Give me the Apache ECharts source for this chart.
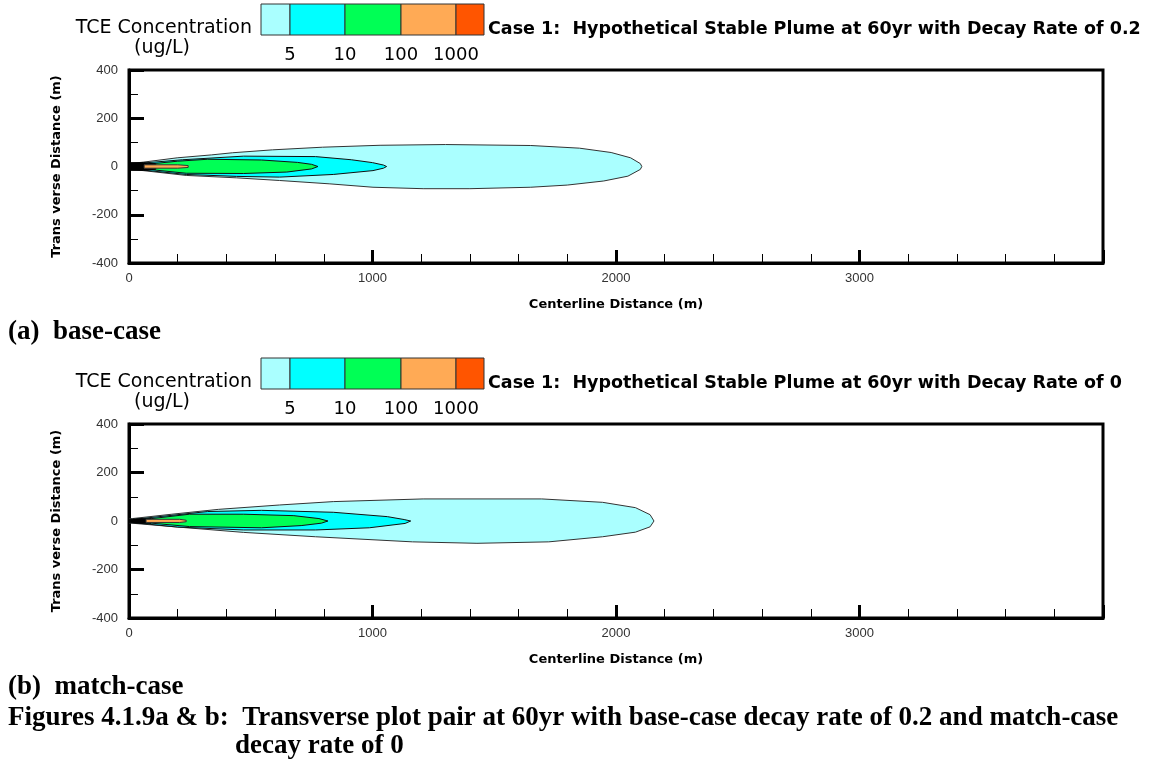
<!DOCTYPE html>
<html><head><meta charset="utf-8">
<script src="https://cdn.jsdelivr.net/npm/echarts@6/dist/echarts.min.js"></script>
<style>html,body{margin:0;padding:0;background:#fff}#c{width:1152px;height:761px}</style>
</head><body><div id="c"></div>
<script>
// ---- tick labels ----
const xTickLabels = [0, 1000, 2000, 3000];
const yTickLabels = [400, 200, 0, -200, -400];
// ---- legend ----
const legendColors = ['#aaffff', '#00ffff', '#00ff55', '#ffaa55', '#ff5500'];
const legendLabels = ['5', '10', '100', '1000'];
// ---- (a) base-case contours [centerline m, transverse m] ----
const aOuter = [[0,12],[58,18],[198,36],[338,48],[426,57],[589,69],[795,80],[1031,88],[1300,91],[1650,87],[1850,76],[1980,58],[2060,36],[2100,12],[2106,0],
  [2100,-12],[2049,-40],[1950,-60],[1800,-77],[1650,-86],[1400,-92],[1208,-92],[1002,-86],[825,-72],[618,-58],[441,-47],[235,-37],[58,-17],[0,-12]];
const aCyan = [[30,12],[220,28],[471,43],[766,41],[913,28],[1000,16],[1045,6],[1058,0],
  [1045,-7],[1002,-17],[839,-33],[618,-44],[441,-41],[235,-33],[30,-12]];
const aGreen = [[70,9],[200,22],[323,30],[544,27],[692,17],[750,9],[776,0],
  [750,-10],[648,-23],[471,-29],[235,-28],[100,-14],[70,-9]];
const aBlack = [[0,16],[60,16],[110,10],[110,-11],[60,-16],[0,-16]];
const aOrange = [[62,7],[200,7],[243,4],[243,-4],[200,-7],[62,-7]];
// ---- (b) match-case contours ----
const bOuter = [[0,8],[14,10],[176,28],[367,48],[618,66],[839,80],[1208,91],[1695,91],[1945,77],[2080,55],[2140,26],[2156,0],
  [2140,-24],[2080,-46],[1945,-65],[1724,-86],[1429,-92],[1164,-86],[766,-65],[471,-47],[176,-23],[0,-8]];
const bCyan = [[30,8],[323,39],[544,44],[839,36],[1061,18],[1130,6],[1157,0],
  [1134,-10],[987,-28],[766,-37],[471,-37],[200,-25],[30,-8]];
const bGreen = [[60,6],[249,28],[471,28],[677,22],[780,10],[817,0],
  [790,-9],[707,-19],[544,-28],[249,-23],[60,-6]];
const bBlack = [[0,7],[40,9],[90,9],[90,-9],[40,-9],[0,-7]];
const bOrange = [[70,7],[208,7],[235,3],[235,-3],[208,-6],[70,-6]];

const chart = echarts.init(document.getElementById('c'));
const FONT = 'DejaVu Sans';
const SANS = 'Liberation Sans';

function polySeries(idx, pts, fill, stroke) {
  return {
    type: 'custom', xAxisIndex: idx, yAxisIndex: idx, clip: true, silent: true,
    data: [[pts[0][0], pts[0][1]]],
    renderItem: function (params, api) {
      return { type: 'polygon', shape: { points: pts.map(p => api.coord(p)) },
        style: { fill: fill, stroke: stroke, lineWidth: 1 } };
    }
  };
}

function xAx(i) {
  return {
    gridIndex: i, type: 'value', min: 0, max: 4000, interval: 1000,
    name: 'Centerline Distance (m)', nameLocation: 'middle', nameGap: 35,
    nameTextStyle: { fontFamily: FONT, fontWeight: 'bold', fontSize: 13, color: '#000' },
    axisLine: { show: true, onZero: false, lineStyle: { color: '#000', width: 3 } },
    axisTick: { show: true, inside: true, length: 13, lineStyle: { color: '#000', width: 3 } },
    minorTick: { show: true, splitNumber: 5, length: 9, lineStyle: { color: '#000', width: 1 } },
    splitLine: { show: false },
    axisLabel: { margin: 9, fontFamily: SANS, fontSize: 13, color: '#333',
      formatter: v => xTickLabels.indexOf(v) >= 0 ? String(v) : '' }
  };
}
function yAx(i) {
  return {
    gridIndex: i, type: 'value', min: -400, max: 400, interval: 200,
    name: 'Trans verse Distance (m)', nameLocation: 'middle', nameGap: 66,
    nameTextStyle: { fontFamily: FONT, fontWeight: 'bold', fontSize: 13, color: '#000' },
    axisLine: { show: true, onZero: false, lineStyle: { color: '#000', width: 3 } },
    axisTick: { show: true, inside: true, length: 15, lineStyle: { color: '#000', width: 3 } },
    minorTick: { show: true, splitNumber: 2, length: 9, lineStyle: { color: '#000', width: 1 } },
    splitLine: { show: false },
    axisLabel: { margin: 11, fontFamily: SANS, fontSize: 13, color: '#333',
      formatter: v => yTickLabels.indexOf(v) >= 0 ? String(v) : '' }
  };
}

function legendGraphics(dy, title) {
  const g = [];
  const bounds = [261, 290, 345, 401, 456, 484];
  for (let i = 0; i < legendColors.length; i++) {
    g.push({ type: 'rect', shape: { x: bounds[i], y: 4 + dy, width: bounds[i+1] - bounds[i], height: 31 },
      style: { fill: legendColors[i], stroke: '#333', lineWidth: 1 } });
  }
  for (let i = 0; i < legendLabels.length; i++) {
    g.push({ type: 'text', x: bounds[i+1], y: 55 + dy,
      style: { text: legendLabels[i], align: 'center', verticalAlign: 'middle', font: '18px "' + FONT + '"', fill: '#000' } });
  }
  g.push({ type: 'text', x: 252, y: 28 + dy, style: { text: 'TCE Concentration', align: 'right', verticalAlign: 'middle', font: '19px "' + FONT + '"', fill: '#000' } });
  g.push({ type: 'text', x: 162, y: 48 + dy, style: { text: '(ug/L)', align: 'center', verticalAlign: 'middle', font: '19px "' + FONT + '"', fill: '#000' } });
  g.push({ type: 'text', x: 488, y: 29 + dy, style: { text: title, align: 'left', verticalAlign: 'middle', font: 'bold 17.5px "' + FONT + '"', fill: '#000' } });
  return g;
}

const capFont = 'bold 27px "Liberation Serif"';
const graphics = [].concat(
  legendGraphics(0, 'Case 1:  Hypothetical Stable Plume at 60yr with Decay Rate of 0.2'),
  legendGraphics(354, 'Case 1:  Hypothetical Stable Plume at 60yr with Decay Rate of 0'),
  [
    { type: 'text', x: 8, y: 332, style: { text: '(a)  base-case', verticalAlign: 'middle', font: capFont, fill: '#000' } },
    { type: 'text', x: 8, y: 687, style: { text: '(b)  match-case', verticalAlign: 'middle', font: capFont, fill: '#000' } },
    { type: 'text', x: 8, y: 718, style: { text: 'Figures 4.1.9a & b:  Transverse plot pair at 60yr with base-case decay rate of 0.2 and match-case', verticalAlign: 'middle', font: capFont, fill: '#000' } },
    { type: 'text', x: 235, y: 746, style: { text: 'decay rate of 0', verticalAlign: 'middle', font: capFont, fill: '#000' } }
  ]
);

chart.setOption({
  animation: false,
  grid: [
    { left: 129, right: 49, top: 70, height: 193, show: true, borderColor: '#000', borderWidth: 3, backgroundColor: '#fff' },
    { left: 129, right: 49, top: 424, height: 194, show: true, borderColor: '#000', borderWidth: 3, backgroundColor: '#fff' }
  ],
  xAxis: [xAx(0), xAx(1)],
  yAxis: [yAx(0), yAx(1)],
  series: [
    polySeries(0, aOuter, legendColors[0], '#333'),
    polySeries(0, aCyan, legendColors[1], '#111'),
    polySeries(0, aGreen, legendColors[2], '#111'),
    polySeries(0, aBlack, '#000', '#000'),
    polySeries(0, aOrange, legendColors[3], '#333'),
    polySeries(1, bOuter, legendColors[0], '#333'),
    polySeries(1, bCyan, legendColors[1], '#111'),
    polySeries(1, bGreen, legendColors[2], '#111'),
    polySeries(1, bBlack, '#000', '#000'),
    polySeries(1, bOrange, legendColors[3], '#333')
  ],
  graphic: graphics
});
</script></body></html>
